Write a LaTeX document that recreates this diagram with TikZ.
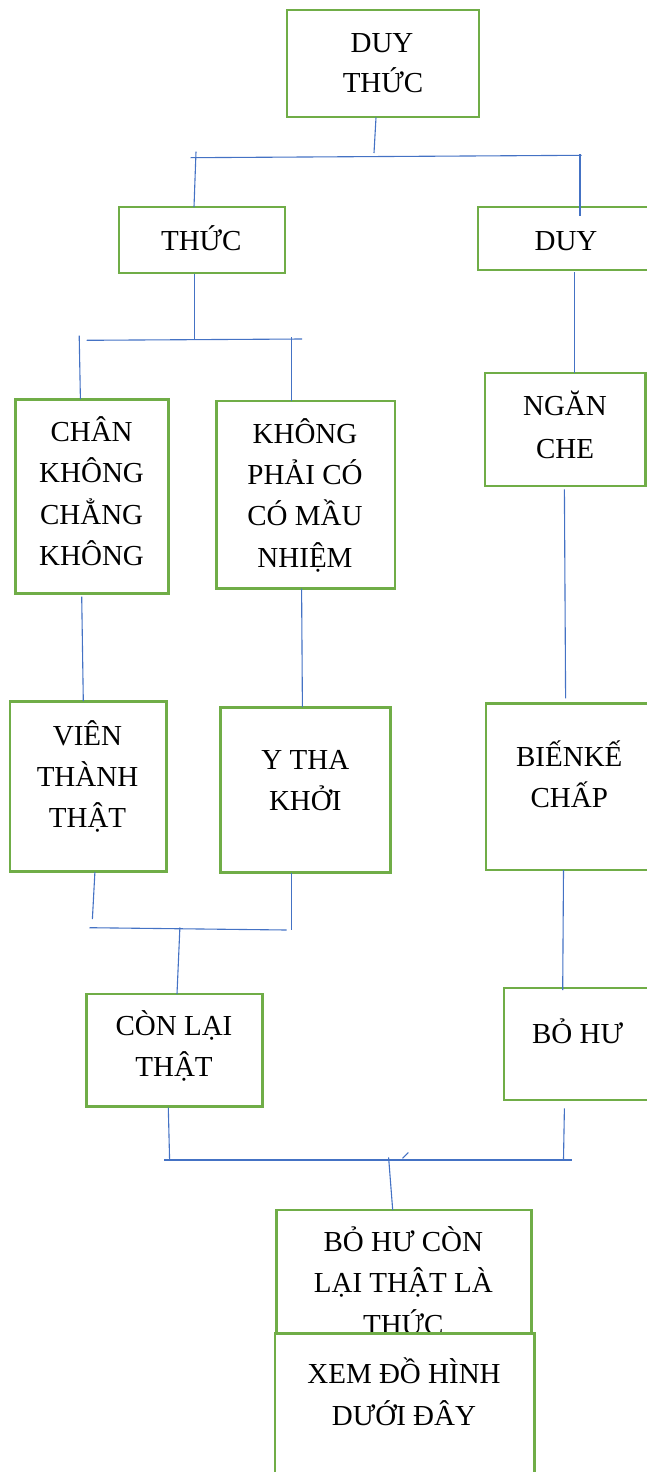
\documentclass[tikz,border=0pt]{standalone}
\usepackage{fontspec}
\setmainfont{Liberation Serif}
\definecolor{boxgreen}{HTML}{70AD47}
\definecolor{linkblue}{HTML}{4472C4}
\begin{document}
\begin{tikzpicture}[x=1pt,y=-1pt,
  box/.style={draw=boxgreen, line width=2.5pt, fill=white, inner sep=0pt, rectangle},
  txt/.style={anchor=base, inner sep=0pt, font=\fontsize{29}{40}\selectfont},
  conn/.style={draw=linkblue, line width=1.1pt}]
\useasboundingbox (0,0) rectangle (647,1472);
% boxes
\node[box, minimum width=192pt, minimum height=107pt] (b1) at (383,63.5) {};
\node[box, minimum width=166pt, minimum height=66pt] (b2) at (202,240) {};
\node[box, minimum width=177pt, minimum height=63pt] (b3) at (566.5,238.5) {};
\node[box, minimum width=152.6pt, minimum height=194pt] (b4) at (92,496.3) {};
\node[box, minimum width=178.6pt, minimum height=187.3pt] (b5) at (305.9,494.7) {};
\node[box, minimum width=160.9pt, minimum height=113pt] (b6) at (565.2,429.5) {};
\node[box, minimum width=156.8pt, minimum height=170pt] (b7) at (88.3,786.7) {};
\node[box, minimum width=170pt, minimum height=165pt] (b8) at (305.7,790.2) {};
\node[box, minimum width=169pt, minimum height=166.7pt] (b9) at (570.5,786.7) {};
\node[box, minimum width=175.8pt, minimum height=112.7pt] (b10) at (174.5,1050.3) {};
\node[box, minimum width=151pt, minimum height=112.3pt] (b11) at (579.5,1043.9) {};
\node[box, minimum width=255pt, minimum height=135pt] (b12) at (404.2,1277.5) {};
% texts
\node[txt] (t1a) at (382,52.7) {DUY};
\node[txt] (t1b) at (383,92.7) {THỨC};
\node[txt] (t2) at (201.3,250) {THỨC};
\node[txt] (t3) at (566,250) {DUY};
\node[txt] (t4a) at (91.6,441.7) {CHÂN};
\node[txt] (t4b) at (91.6,482.7) {KHÔNG};
\node[txt] (t4c) at (91.6,524) {CHẲNG};
\node[txt] (t4d) at (91.6,565.7) {KHÔNG};
\node[txt] (t5a) at (305,443.3) {KHÔNG};
\node[txt] (t5b) at (305,484) {PHẢI CÓ};
\node[txt] (t5c) at (305,525.7) {CÓ MẦU};
\node[txt] (t5d) at (305,567.3) {NHIỆM};
\node[txt] (t6a) at (565,415.7) {NGĂN};
\node[txt] (t6b) at (565,458.3) {CHE};
\node[txt] (t7a) at (87.5,745) {VIÊN};
\node[txt] (t7b) at (87.5,786.7) {THÀNH};
\node[txt] (t7c) at (87.5,827.7) {THẬT};
\node[txt] (t8a) at (305.3,769.3) {Y THA};
\node[txt] (t8b) at (305.3,810.7) {KHỞI};
\node[txt] (t9a) at (569.3,766) {BIẾNKẾ};
\node[txt] (t9b) at (569.3,807.7) {CHẤP};
\node[txt] (t10a) at (174,1035.7) {CÒN LẠI};
\node[txt] (t10b) at (174,1076.7) {THẬT};
\node[txt] (t11) at (577.6,1043.3) {BỎ HƯ};
\node[txt] (t12a) at (403.3,1251.7) {BỎ HƯ CÒN};
\node[txt] (t12b) at (403.3,1292.7) {LẠI THẬT LÀ};
\node[txt] (t12c) at (403.3,1334) {THỨC};
\node[box, minimum width=259.3pt, minimum height=146.7pt] (b13) at (404.7,1406.7) {};
\node[txt] (t13a) at (404,1383.3) {XEM ĐỒ HÌNH};
\node[txt] (t13b) at (404,1425) {DƯỚI ĐÂY};
% connector end points
\coordinate (l1a) at (376,117.5); \coordinate (l1b) at (374,153);
\coordinate (k1a) at (190.6,157.7); \coordinate (k1b) at (581.7,155.3);
\coordinate (l2a) at (196,151.7); \coordinate (l2b) at (194,207);
\coordinate (l3a) at (580,154); \coordinate (l3b) at (580,215.7);
\coordinate (l4a) at (194.3,273.5); \coordinate (l4b) at (194.3,339);
\coordinate (k2a) at (86.6,340.3); \coordinate (k2b) at (302,339);
\coordinate (l5a) at (79.2,335.7); \coordinate (l5b) at (80.4,399);
\coordinate (l6a) at (291.7,337.3); \coordinate (l6b) at (291.7,401);
\coordinate (l7a) at (574.3,272); \coordinate (l7b) at (574.3,373);
\coordinate (l8a) at (81.7,596.7); \coordinate (l8b) at (83.3,701);
\coordinate (l9a) at (301.6,588.5); \coordinate (l9b) at (302.4,707);
\coordinate (l10a) at (564.4,489.3); \coordinate (l10b) at (565.6,698.3);
\coordinate (l11a) at (94.9,872); \coordinate (l11b) at (92.4,919);
\coordinate (l12a) at (291.7,873); \coordinate (l12b) at (291.7,930);
\coordinate (k3a) at (89.5,927.7); \coordinate (k3b) at (286.7,930);
\coordinate (l13a) at (179.9,927.3); \coordinate (l13b) at (177,994);
\coordinate (l14a) at (563.5,870); \coordinate (l14b) at (562.7,990);
\coordinate (l15a) at (168.3,1107.7); \coordinate (l15b) at (169.6,1160);
\coordinate (l16a) at (564.4,1108.3); \coordinate (l16b) at (563.5,1159.3);
\coordinate (k4a) at (164.2,1160); \coordinate (k4b) at (572.2,1160);
\coordinate (l17a) at (388.6,1157.3); \coordinate (l17b) at (392.7,1210);
\coordinate (tka) at (402.5,1158.3); \coordinate (tkb) at (408.3,1152.5);
% connectors
\draw[conn] (l1a) -- (l1b);
\draw[conn] (k1a) -- (k1b);
\draw[conn] (l2a) -- (l2b);
\draw[conn] (l3a) -- (l3b);
\draw[conn] (l4a) -- (l4b);
\draw[conn] (k2a) -- (k2b);
\draw[conn] (l5a) -- (l5b);
\draw[conn] (l6a) -- (l6b);
\draw[conn] (l7a) -- (l7b);
\draw[conn] (l8a) -- (l8b);
\draw[conn] (l9a) -- (l9b);
\draw[conn] (l10a) -- (l10b);
\draw[conn] (l11a) -- (l11b);
\draw[conn] (l12a) -- (l12b);
\draw[conn] (k3a) -- (k3b);
\draw[conn] (l13a) -- (l13b);
\draw[conn] (l14a) -- (l14b);
\draw[conn] (l15a) -- (l15b);
\draw[conn] (l16a) -- (l16b);
\draw[conn] (k4a) -- (k4b);
\draw[conn] (l17a) -- (l17b);
\draw[conn] (tka) -- (tkb);
\end{tikzpicture}
\end{document}
